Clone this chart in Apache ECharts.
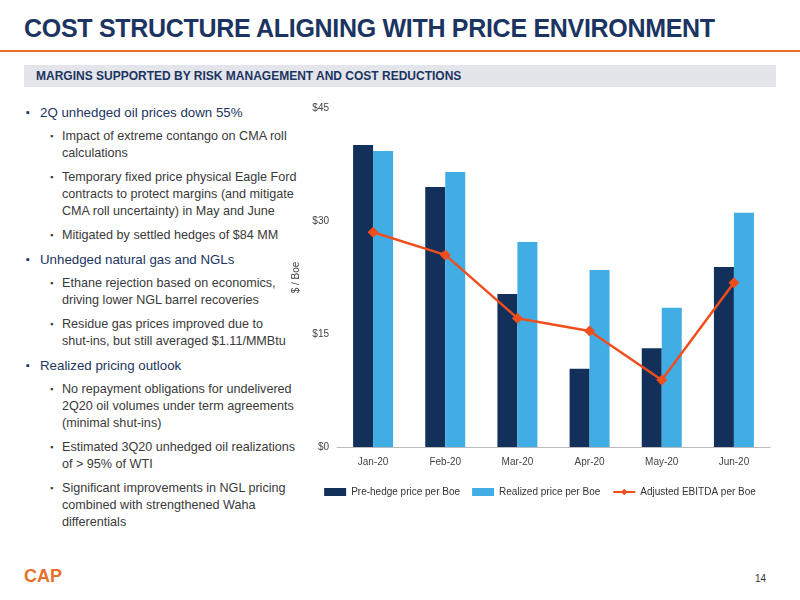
<!DOCTYPE html>
<html><head><meta charset="utf-8">
<script src="https://cdn.jsdelivr.net/npm/echarts@6/dist/echarts.min.js"></script>
<style>
body{margin:0;width:800px;height:600px;background:#fff;font-family:Arial,"Liberation Sans",sans-serif;position:relative;overflow:hidden}
#title{position:absolute;left:24px;top:14px;font-size:25px;font-weight:bold;color:#1b3461;letter-spacing:-0.3px}
#rule{position:absolute;left:0;top:50px;width:800px;height:2px;background:#e8702a}
#band{position:absolute;left:24px;top:65px;width:752px;height:22px;background:#e4e5ea;font-size:12px;font-weight:bold;color:#1b3461;line-height:22px;padding-left:12px;box-sizing:border-box}
#text{position:absolute;left:26px;top:104px;width:272px;font-size:13.3px;color:#1b3461}
.l1{position:relative;padding-left:14px;margin-bottom:7px;line-height:17px}
.l1:before{content:"\25AA";position:absolute;left:0;top:0;font-size:11px}
.l2{position:relative;padding-left:12px;margin-left:24px;margin-bottom:7px;font-size:12.6px;color:#3a3a3a;line-height:17px}
.l2:before{content:"\25AA";position:absolute;left:0;top:0;font-size:9px}
#chart{position:absolute;left:280px;top:95px;width:520px;height:420px}
#pg{position:absolute;left:755px;top:573px;font-size:10px;color:#333}
#logo{position:absolute;left:24px;top:566px;font-size:18px;font-weight:bold;color:#e8702a}
</style></head><body>
<div id="title">COST STRUCTURE ALIGNING WITH PRICE ENVIRONMENT</div>
<div id="rule"></div>
<div id="band">MARGINS SUPPORTED BY RISK MANAGEMENT AND COST REDUCTIONS</div>
<div id="text">
<div class="l1">2Q unhedged oil prices down 55%</div>
<div class="l2">Impact of extreme contango on CMA roll calculations</div>
<div class="l2">Temporary fixed price physical Eagle Ford contracts to protect margins (and mitigate CMA roll uncertainty) in May and June</div>
<div class="l2">Mitigated by settled hedges of $84 MM</div>
<div class="l1">Unhedged natural gas and NGLs</div>
<div class="l2">Ethane rejection based on economics, driving lower NGL barrel recoveries</div>
<div class="l2">Residue gas prices improved due to shut&#8209;ins, but still averaged $1.11/MMBtu</div>
<div class="l1">Realized pricing outlook</div>
<div class="l2">No repayment obligations for undelivered 2Q20 oil volumes under term agreements (minimal shut-ins)</div>
<div class="l2">Estimated 3Q20 unhedged oil realizations of &gt; 95% of WTI</div>
<div class="l2">Significant improvements in NGL pricing combined with strengthened Waha differentials</div>
</div>
<div id="chart"></div>
<div id="logo">CAP</div>
<div id="pg">14</div>
<script>
var months = ['Jan-20','Feb-20','Mar-20','Apr-20','May-20','Jun-20'];
var preHedge = [40.1, 34.5, 20.3, 10.4, 13.1, 23.9];
var realized = [39.3, 36.5, 27.2, 23.5, 18.5, 31.1];
var ebitda = [28.5, 25.5, 17.1, 15.4, 8.9, 21.8];

var myChart = echarts.init(document.getElementById('chart'));
myChart.setOption({
    animation:false,
    textStyle:{fontFamily:'Arial'},
    grid:{left:57,right:30,top:13,bottom:68},
    legend:{
        bottom:13,left:'center',itemGap:12,itemWidth:22,itemHeight:8,
        textStyle:{fontSize:10,color:'#333'},
        data:[{name:'Pre-hedge price per Boe',icon:'rect'},{name:'Realized price per Boe',icon:'rect'},'Adjusted EBITDA per Boe']
    },
    xAxis:{type:'category',data:months,
        axisLine:{lineStyle:{color:'#bbb'}},axisTick:{show:false},
        axisLabel:{fontSize:10,color:'#444',margin:10}},
    yAxis:{type:'value',min:0,max:45,interval:15,
        name:'$ / Boe',nameLocation:'middle',nameGap:35,nameTextStyle:{fontSize:10,color:'#444'},
        axisLabel:{formatter:'${value}',fontSize:10,color:'#444'},
        splitLine:{show:false},axisLine:{show:false},axisTick:{show:false}},
    series:[
        {name:'Pre-hedge price per Boe',type:'bar',data:preHedge,barWidth:20,barGap:'0%',itemStyle:{color:'#12305a'}},
        {name:'Realized price per Boe',type:'bar',data:realized,barWidth:20,itemStyle:{color:'#41ade5'}},
        {name:'Adjusted EBITDA per Boe',type:'line',data:ebitda,symbol:'diamond',symbolSize:11,
            lineStyle:{color:'#f04e1c',width:2.5},itemStyle:{color:'#f04e1c'}}
    ]
});
</script>
</body></html>
